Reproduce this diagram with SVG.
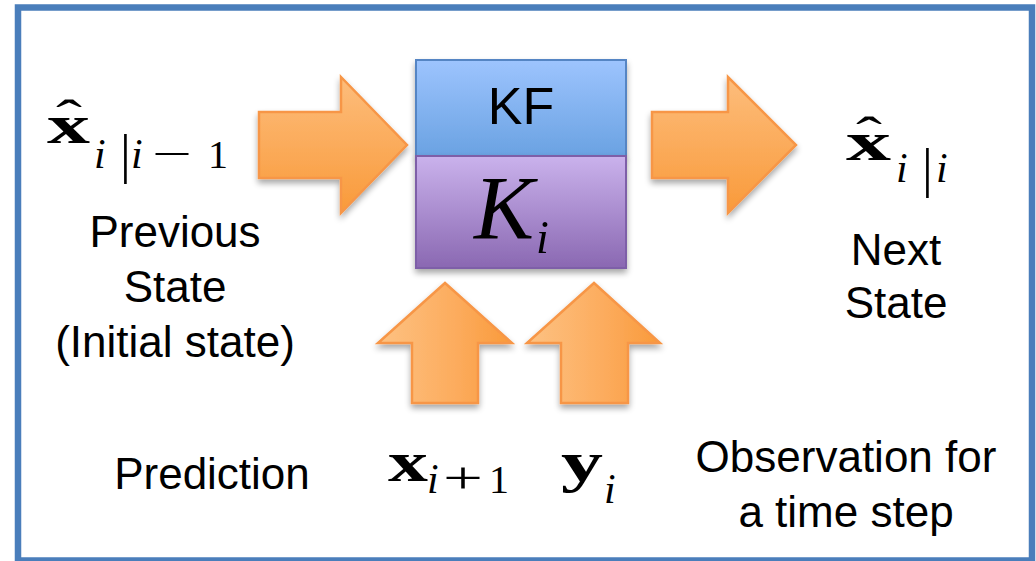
<svg xmlns="http://www.w3.org/2000/svg" width="1036" height="561" viewBox="0 0 1036 561">
<style>
.sans{font-family:"Liberation Sans",Arial,sans-serif;fill:#000;}
.lbl{font-size:44px;text-anchor:middle;}
.bx{font-family:"Liberation Serif","Times New Roman",serif;font-weight:bold;fill:#000;}
.it{font-family:"Liberation Serif","Times New Roman",serif;font-style:italic;fill:#000;}
.rm{font-family:"Liberation Serif","Times New Roman",serif;fill:#000;}
.harrow{fill:url(#gH);stroke:#f79646;stroke-width:2.5;stroke-linejoin:miter;}
.varrow{fill:url(#gV);stroke:#f79646;stroke-width:2.5;stroke-linejoin:miter;}
</style>
<defs>
<linearGradient id="gH" x1="0" y1="0" x2="0" y2="1">
<stop offset="0" stop-color="#fdbd7c"/>
<stop offset="1" stop-color="#f99a3a"/>
</linearGradient>
<linearGradient id="gV" x1="0" y1="0" x2="1" y2="0">
<stop offset="0" stop-color="#fdc283"/>
<stop offset="0.6" stop-color="#fcab5c"/>
<stop offset="1" stop-color="#f99a3a"/>
</linearGradient>
<linearGradient id="gBlue" x1="0" y1="0" x2="0" y2="1">
<stop offset="0" stop-color="#9dc4fe"/>
<stop offset="1" stop-color="#6aa2e2"/>
</linearGradient>
<linearGradient id="gPurple" x1="0" y1="0" x2="0" y2="1">
<stop offset="0" stop-color="#cab2ec"/>
<stop offset="1" stop-color="#8a68b2"/>
</linearGradient>
<filter id="sh" x="-20%" y="-20%" width="140%" height="140%">
<feGaussianBlur in="SourceAlpha" stdDeviation="3"/>
<feOffset dx="0" dy="4" result="b"/>
<feComponentTransfer><feFuncA type="linear" slope="0.35"/></feComponentTransfer>
<feMerge><feMergeNode/><feMergeNode in="SourceGraphic"/></feMerge>
</filter>
</defs>
<rect x="0" y="0" width="1036" height="561" fill="#fff"/>
<g id="frame">
<rect x="18" y="7.5" width="1014" height="553" fill="none" stroke="#4a7ebb" stroke-width="6.5"/>
</g>
<g id="connectors">
<polygon class="harrow" filter="url(#sh)" points="259,112 341,112 341,77 407,145 341,213 341,178 259,178"/>
<polygon class="harrow" filter="url(#sh)" points="652,112 728,112 728,77 796,145 728,213 728,178 652,178"/>
<polygon class="varrow" filter="url(#sh)" points="445,283 512,343 478,343 478,403 412,403 412,343 378,343"/>
<polygon class="varrow" filter="url(#sh)" points="594,283 660,343 628,343 628,403 561,403 561,343 527,343"/>
</g>
<g id="node-kf" filter="url(#sh)">
<rect x="416" y="60" width="210" height="96" fill="url(#gBlue)" stroke="#5585c4" stroke-width="2"/>
<text class="sans" x="521" y="124" font-size="52" text-anchor="middle">KF</text>
</g>
<g id="node-ki" filter="url(#sh)">
<rect x="416" y="156" width="210" height="112" fill="url(#gPurple)" stroke="#7e5fa8" stroke-width="2"/>
<text class="it" x="474" y="239" font-size="90">K</text>
<text class="it" x="536" y="253" font-size="46">i</text>
</g>
<g id="node-prev">
<text class="bx" x="47" y="143" font-size="55" textLength="43" lengthAdjust="spacingAndGlyphs">x</text>
<text class="rm" x="56" y="135" font-size="50" textLength="26" lengthAdjust="spacingAndGlyphs">ˆ</text>
<text class="it" x="94" y="168" font-size="42">i</text>
<text class="rm" x="120" y="172" font-size="54">|</text>
<text class="it" x="131" y="168" font-size="42">i</text>
<text class="rm" x="152" y="168" font-size="42" textLength="40" lengthAdjust="spacingAndGlyphs">−</text>
<text class="rm" x="208" y="168" font-size="40">1</text>
<text class="sans lbl" x="175" y="247">Previous</text>
<text class="sans lbl" x="175" y="302">State</text>
<text class="sans lbl" x="175" y="357">(Initial state)</text>
</g>
<g id="node-next">
<text class="bx" x="846" y="160" font-size="55" textLength="45" lengthAdjust="spacingAndGlyphs">x</text>
<text class="rm" x="856" y="152" font-size="50" textLength="26" lengthAdjust="spacingAndGlyphs">ˆ</text>
<text class="it" x="896" y="182" font-size="42">i</text>
<text class="rm" x="922" y="186" font-size="54">|</text>
<text class="it" x="936" y="182" font-size="42">i</text>
<text class="sans lbl" x="896" y="265">Next</text>
<text class="sans lbl" x="896" y="318">State</text>
</g>
<g id="node-prediction">
<text class="sans lbl" x="212" y="489">Prediction</text>
<text class="bx" x="388" y="481" font-size="57" textLength="40" lengthAdjust="spacingAndGlyphs">x</text>
<text class="it" x="427" y="493" font-size="42">i</text>
<text class="rm" x="443" y="493" font-size="44" textLength="40" lengthAdjust="spacingAndGlyphs">+</text>
<text class="rm" x="489" y="493" font-size="40">1</text>
</g>
<g id="node-observation">
<text class="bx" x="561" y="481" font-size="57" textLength="42" lengthAdjust="spacingAndGlyphs">y</text>
<text class="it" x="604" y="503" font-size="42">i</text>
<text class="sans lbl" x="846" y="472">Observation for</text>
<text class="sans lbl" x="846" y="527">a time step</text>
</g>
</svg>
